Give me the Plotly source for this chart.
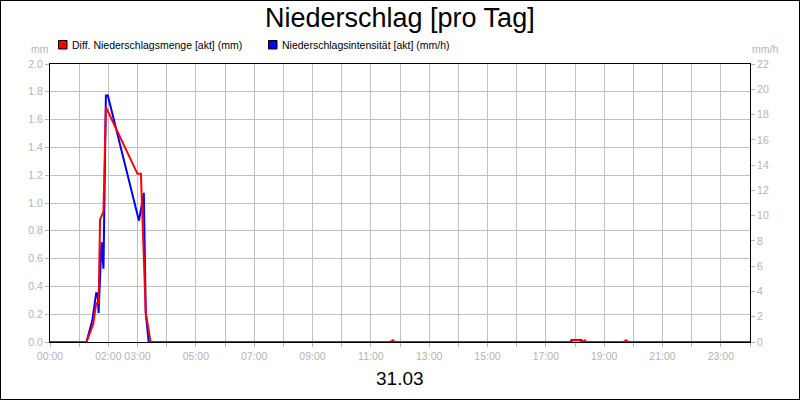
import plotly.graph_objects as go

DAY = "2024-03-31"

# Diff. Niederschlagsmenge [akt] (mm) - left axis
menge_times = ["00:00", "01:15", "01:29", "01:35", "01:40", "01:43", "01:50", "01:55",
               "03:00", "03:07", "03:17", "03:27",
               "11:40", "11:45", "11:50",
               "17:50", "17:55", "18:10", "18:14", "18:20", "18:25",
               "19:40", "19:45", "19:50", "24:00"]
menge_values = [0, 0, 0.13, 0.28, 0.28, 0.88, 0.94, 1.69,
                1.21, 1.21, 0.21, 0,
                0, 0.012, 0,
                0, 0.012, 0.012, 0, 0.012, 0,
                0, 0.012, 0, 0]

# Niederschlagsintensität [akt] (mm/h) - right axis
intens_times = ["00:00", "01:15", "01:27", "01:35", "01:38", "01:40", "01:46", "01:50",
                "01:55", "01:59", "03:03", "03:13", "03:17", "03:23",
                "17:50", "17:53", "18:13", "18:15", "24:00"]
intens_values = [0, 0, 1.7, 3.85, 3.85, 2.3, 7.9, 5.8,
                 19.5, 19.5, 9.6, 11.8, 2.3, 0,
                 0, 0.15, 0.15, 0, 0]

x_tick_labels = ["00:00", "02:00", "03:00", "05:00", "07:00", "09:00", "11:00",
                 "13:00", "15:00", "17:00", "19:00", "21:00", "23:00"]


def to_dt(t):
    if t == "24:00":
        return "2024-04-01 00:00"
    return f"{DAY} {t}"


GRID = "#c0c0c0"
TICKC = "#b4b4b4"
FONT = "Liberation Sans, Arial, sans-serif"

fig = go.Figure()
fig.add_trace(go.Scatter(x=[to_dt(t) for t in intens_times], y=intens_values,
                         mode="lines", line=dict(color="#0000ff", width=2),
                         yaxis="y", name="Niederschlagsintensität [akt] (mm/h)"))
fig.add_trace(go.Scatter(x=[to_dt(t) for t in menge_times], y=menge_values,
                         mode="lines", line=dict(color="#ff0000", width=2),
                         yaxis="y2", name="Diff. Niederschlagsmenge [akt] (mm)"))

fig.update_layout(
    width=800, height=400,
    margin=dict(l=50, r=50, t=64, b=58, autoexpand=False),
    paper_bgcolor="white", plot_bgcolor="white",
    showlegend=False,
    font=dict(family=FONT, size=11, color="black"),
    xaxis=dict(
        type="date", automargin=False, tickangle=0,
        range=[to_dt("00:00"), to_dt("24:00")],
        tickvals=[to_dt(t) for t in x_tick_labels],
        ticktext=x_tick_labels,
        tickfont=dict(color=TICKC, size=10.5),
        ticks="outside", ticklen=4, tickcolor=TICKC,
        showgrid=True, gridcolor=GRID, gridwidth=1,
        minor=dict(dtick=3600000, showgrid=True, gridcolor=GRID, gridwidth=1,
                   ticks="outside", ticklen=4, tickcolor=TICKC),
        showline=True, linecolor="black", linewidth=1, mirror=True,
        zeroline=False,
    ),
    yaxis=dict(
        side="right", automargin=False,
        range=[0, 22], dtick=2,
        tickfont=dict(color=TICKC, size=10.5),
        ticks="outside", ticklen=4, tickcolor=TICKC,
        showgrid=False, zeroline=False,
        showline=True, linecolor="black", linewidth=1,
    ),
    yaxis2=dict(
        side="left", overlaying="y", automargin=False,
        range=[0, 2.0], dtick=0.2, tickformat=".1f",
        tickfont=dict(color=TICKC, size=10.5),
        ticks="outside", ticklen=4, tickcolor=TICKC,
        showgrid=True, gridcolor=GRID, gridwidth=1, zeroline=False,
        showline=True, linecolor="black", linewidth=1,
    ),
)

PW, PH = 700.0, 278.0
# outer frame
fig.add_shape(type="rect", xref="paper", yref="paper",
              x0=-50 / PW, x1=1 + 50 / PW, y0=-58 / PH, y1=1 + 64 / PH,
              line=dict(color="black", width=2), fillcolor="rgba(0,0,0,0)", layer="above")

# legend squares
def px_x(x):
    return (x - 50) / PW


def px_y(y):
    return (342 - y) / PH


fig.add_shape(type="rect", xref="paper", yref="paper",
              x0=px_x(58.5), x1=px_x(67), y0=px_y(49), y1=px_y(40.5),
              line=dict(color="black", width=1), fillcolor="#ff0000")
fig.add_shape(type="rect", xref="paper", yref="paper",
              x0=px_x(268.5), x1=px_x(277), y0=px_y(49), y1=px_y(40.5),
              line=dict(color="black", width=1), fillcolor="#0000ff")

annotations = [
    dict(text="Diff. Niederschlagsmenge [akt] (mm)", x=px_x(69.5), y=px_y(44.5),
         xanchor="left", yanchor="middle", font=dict(size=10.5, color="black")),
    dict(text="Niederschlagsintensität [akt] (mm/h)", x=px_x(279.5), y=px_y(44.5),
         xanchor="left", yanchor="middle", font=dict(size=10.5, color="black")),
    dict(text="mm", x=px_x(40), y=px_y(49), xanchor="center", yanchor="middle",
         font=dict(size=10.5, color=TICKC)),
    dict(text="mm/h", x=px_x(765), y=px_y(49), xanchor="center", yanchor="middle",
         font=dict(size=10.5, color=TICKC)),
    dict(text="Niederschlag [pro Tag]", x=0.5, y=px_y(18.5), xanchor="center",
         yanchor="middle", font=dict(size=27, color="black")),
    dict(text="31.03", x=0.5, y=px_y(378), xanchor="center", yanchor="middle",
         font=dict(size=19, color="black")),
]
for a in annotations:
    a.update(xref="paper", yref="paper", showarrow=False)
fig.update_layout(annotations=annotations)

fig.write_html("out.html", config={"displayModeBar": False},
               post_script="document.body.style.margin='0';document.body.style.overflow='hidden';")
